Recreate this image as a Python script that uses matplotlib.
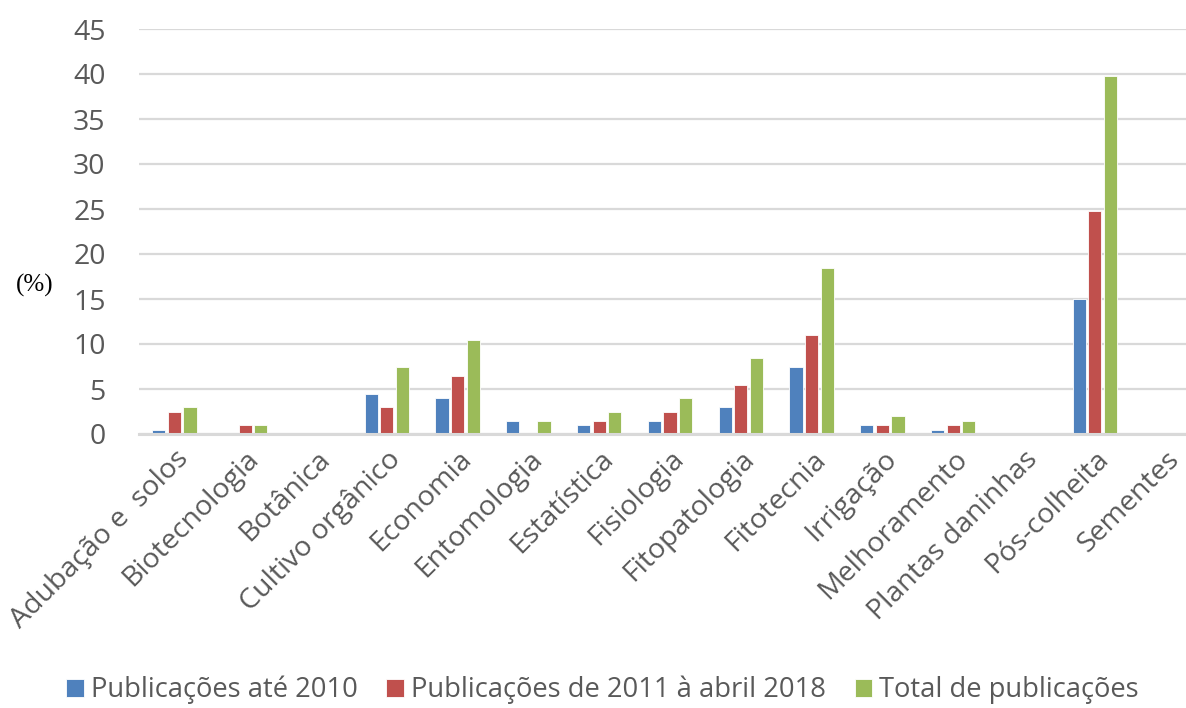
import numpy as np
import matplotlib
import matplotlib.pyplot as plt

matplotlib.use("agg")

categorias = ["Adubação e  solos", "Biotecnologia", "Botânica", "Cultivo orgânico",
              "Economia", "Entomologia", "Estatística", "Fisiologia", "Fitopatologia",
              "Fitotecnia", "Irrigação", "Melhoramento", "Plantas daninhas",
              "Pós-colheita", "Sementes"]
ate_2010 = [0.5, 0, 0, 4.5, 4, 1.5, 1, 1.5, 3, 7.5, 1, 0.5, 0, 15, 0]
de_2011_2018 = [2.5, 1, 0, 3, 6.5, 0, 1.5, 2.5, 5.5, 11, 1, 1, 0, 24.8, 0]
total = [3, 1, 0, 7.5, 10.5, 1.5, 2.5, 4, 8.5, 18.5, 2, 1.5, 0, 39.8, 0]
series_nomes = ["Publicações até 2010", "Publicações de 2011 à abril 2018",
                "Total de publicações"]
yticks = [0, 5, 10, 15, 20, 25, 30, 35, 40, 45]

cores = ["#4F81BD", "#C0504D", "#9BBB59"]
cinza = "#595959"
plt.rcParams["font.family"] = ["Open Sans", "DejaVu Sans"]

fig = plt.figure(figsize=(11.86, 7.08), dpi=100)
ax = fig.add_axes([139 / 1186, (708 - 434) / 708, 1062 / 1186, 405 / 708])

x = np.arange(len(categorias))
w = 0.185
passo = 0.22
for i, (vals, nome) in enumerate(zip([ate_2010, de_2011_2018, total], series_nomes)):
    ax.bar(x + (i - 1) * passo, vals, width=w, color=cores[i], label=nome,
           edgecolor="white", linewidth=0.6, zorder=3)

ax.set_xlim(-0.5, len(categorias) - 0.5)
ax.set_ylim(0, 45)
ax.set_yticks(yticks)
ax.grid(True, axis="y", color="#D9D9D9", linewidth=1.6, zorder=0)
for s in ["top", "right", "left"]:
    ax.spines[s].set_visible(False)
ax.spines["bottom"].set_color("#D9D9D9")
ax.spines["bottom"].set_linewidth(2.2)
ax.spines["bottom"].set_zorder(4)

ax.tick_params(axis="y", length=0, pad=24, labelsize=20.5, labelcolor=cinza)
ax.tick_params(axis="x", length=0, pad=8, labelsize=20.5, labelcolor=cinza)
ax.set_xticks(x)
ax.set_xticklabels(categorias, rotation=45, ha="right", rotation_mode="anchor")

fig.text(35 / 1186, 1 - 285 / 708, "(%)", family="Liberation Serif", fontsize=18,
         ha="center", va="center", color="black")

fig.legend(loc="center", bbox_to_anchor=(0.508, 1 - 690 / 708), ncol=3,
           frameon=False, fontsize=19.7, labelcolor=cinza, handlelength=0.65,
           handleheight=0.65, handletextpad=0.25, columnspacing=1.05)

fig.savefig("out.png", dpi=100)
